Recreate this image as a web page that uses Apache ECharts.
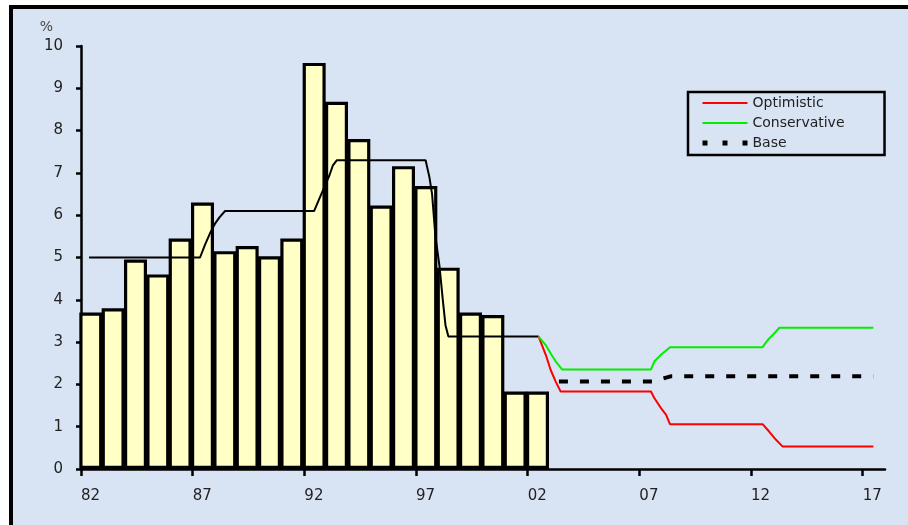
<!DOCTYPE html>
<html>
<head>
<meta charset="utf-8">
<title>chart</title>
<script src="https://cdn.jsdelivr.net/npm/echarts@6/dist/echarts.min.js"></script>
<style>
  html, body { margin: 0; padding: 0; background: #fff; }
  #myChart { width: 908px; height: 525px; }
</style>
</head>
<body>
<div id="myChart"></div>
<script>
// yearly bars (1982 - 2002)
const barYears = [1982, 1983, 1984, 1985, 1986, 1987, 1988, 1989, 1990, 1991, 1992,
  1993, 1994, 1995, 1996, 1997, 1998, 1999, 2000, 2001, 2002];
const barValues = [3.7, 3.8, 4.95, 4.6, 5.45, 6.3, 5.15, 5.27, 5.03, 5.45, 9.6,
  8.68, 7.8, 6.23, 7.16, 6.69, 4.76, 3.7, 3.64, 1.83, 1.83];

// black trend line
const trendX = [1982.36, 1987.33, 1987.55, 1987.8, 1988.0, 1988.2, 1988.45, 1992.44, 1992.64,
  1992.86, 1993.13, 1993.28, 1993.46, 1997.43, 1997.6, 1997.72, 1997.87, 1998.05, 1998.2,
  1998.32, 1998.45, 2002.49];
const trendY = [5.0, 5.0, 5.3, 5.6, 5.8, 5.95, 6.1, 6.1, 6.35, 6.62, 6.95, 7.18, 7.3, 7.3, 6.9,
  6.5, 5.5, 4.8, 4.0, 3.4, 3.13, 3.13];

// scenarios
const optX = [2002.49, 2002.81, 2003.03, 2003.26, 2003.48, 2007.52, 2007.67, 2007.97, 2008.2,
  2008.37, 2012.52, 2012.82, 2013.12, 2013.42, 2017.48];
const optY = [3.13, 2.7, 2.34, 2.06, 1.83, 1.83, 1.68, 1.44, 1.28, 1.06, 1.06, 0.88, 0.69, 0.53, 0.53];

const consX = [2002.49, 2002.81, 2003.03, 2003.26, 2003.55, 2007.52, 2007.67, 2007.97, 2008.37,
  2012.52, 2012.75, 2013.05, 2013.27, 2017.48];
const consY = [3.13, 2.93, 2.73, 2.54, 2.35, 2.35, 2.54, 2.7, 2.88, 2.88, 3.05, 3.21, 3.34, 3.34];

const baseX = [2003.4, 2007.62, 2008.4, 2017.48];
const baseY = [2.07, 2.07, 2.19, 2.19];

const xTicks = [1982, 1987, 1992, 1997, 2002, 2007, 2012, 2017];
const yTicks = [0, 1, 2, 3, 4, 5, 6, 7, 8, 9, 10];

function pairs(xs, ys) {
  return xs.map((x, i) => [x, ys[i]]);
}

const font = 'DejaVu Sans';
let myChart = echarts.init(document.getElementById('myChart'));

let option = {
  backgroundColor: '#d8e3f3',
  animation: false,
  // frame: white margin + thick black edge top/left
  graphic: [
    { type: 'rect', shape: { x: 0, y: 0, width: 908, height: 5 }, style: { fill: '#fff' } },
    { type: 'rect', shape: { x: 0, y: 0, width: 9, height: 525 }, style: { fill: '#fff' } },
    { type: 'rect', shape: { x: 9, y: 5, width: 899, height: 4 }, style: { fill: '#000' } },
    { type: 'rect', shape: { x: 9, y: 5, width: 4, height: 520 }, style: { fill: '#000' } }
  ],
  grid: { left: 81, right: 23, top: 46, bottom: 56 },
  legend: {
    left: 688,
    top: 92,
    orient: 'vertical',
    itemWidth: 45,
    itemHeight: 14,
    itemGap: 6,
    padding: [4, 40, 5, 12],
    borderColor: '#000',
    borderWidth: 2.5,
    itemStyle: { opacity: 0 },
    textStyle: { fontFamily: font, fontSize: 14, color: '#222' },
    data: [
      { name: 'Optimistic' },
      { name: 'Conservative' },
      { name: 'Base', lineStyle: { type: [5, 15], width: 5 } }
    ]
  },
  xAxis: {
    type: 'value',
    min: 1982,
    max: 2018,
    splitLine: { show: false },
    axisLine: { lineStyle: { color: '#000', width: 2.5 } },
    axisTick: { length: 7, lineStyle: { color: '#000', width: 2.5 }, customValues: xTicks },
    axisLabel: {
      customValues: xTicks,
      align: 'left',
      margin: 20,
      fontFamily: font,
      fontSize: 15,
      color: '#222',
      formatter: v => String(v % 100).padStart(2, '0')
    }
  },
  yAxis: {
    type: 'value',
    min: 0,
    max: 10,
    interval: 1,
    name: '%',
    nameLocation: 'end',
    nameGap: 12,
    nameTextStyle: { fontFamily: font, fontSize: 14, color: '#444', align: 'right', padding: [0, 28, 0, 0] },
    splitLine: { show: false },
    axisLine: { show: true, lineStyle: { color: '#000', width: 2.5 } },
    axisTick: { show: true, length: 5, lineStyle: { color: '#000', width: 2.5 } },
    axisLabel: {
      margin: 18,
      fontFamily: font,
      fontSize: 15,
      color: '#222',
      customValues: yTicks
    }
  },
  series: [
    {
      name: 'bars',
      type: 'bar',
      barWidth: 23,
      barMaxWidth: 30,
      // border is drawn inside the bar
      itemStyle: { color: '#ffffc6', borderColor: '#000', borderWidth: 3.2 },
      data: barYears.map((y, i) => [y + 0.44, barValues[i]])
    },
    {
      name: 'trend',
      type: 'line',
      symbol: 'none',
      lineStyle: { color: '#000', width: 2 },
      data: pairs(trendX, trendY)
    },
    {
      name: 'Optimistic',
      type: 'line',
      symbol: 'none',
      color: '#ff0000',
      lineStyle: { color: '#ff0000', width: 2 },
      data: pairs(optX, optY)
    },
    {
      name: 'Conservative',
      type: 'line',
      symbol: 'none',
      color: '#00ee00',
      lineStyle: { color: '#00ee00', width: 2 },
      data: pairs(consX, consY)
    },
    {
      name: 'Base',
      type: 'line',
      symbol: 'none',
      color: '#000',
      lineStyle: { color: '#000', width: 4, type: [9, 12] },
      data: pairs(baseX, baseY)
    }
  ]
};
myChart.setOption(option);
</script>
</body>
</html>
